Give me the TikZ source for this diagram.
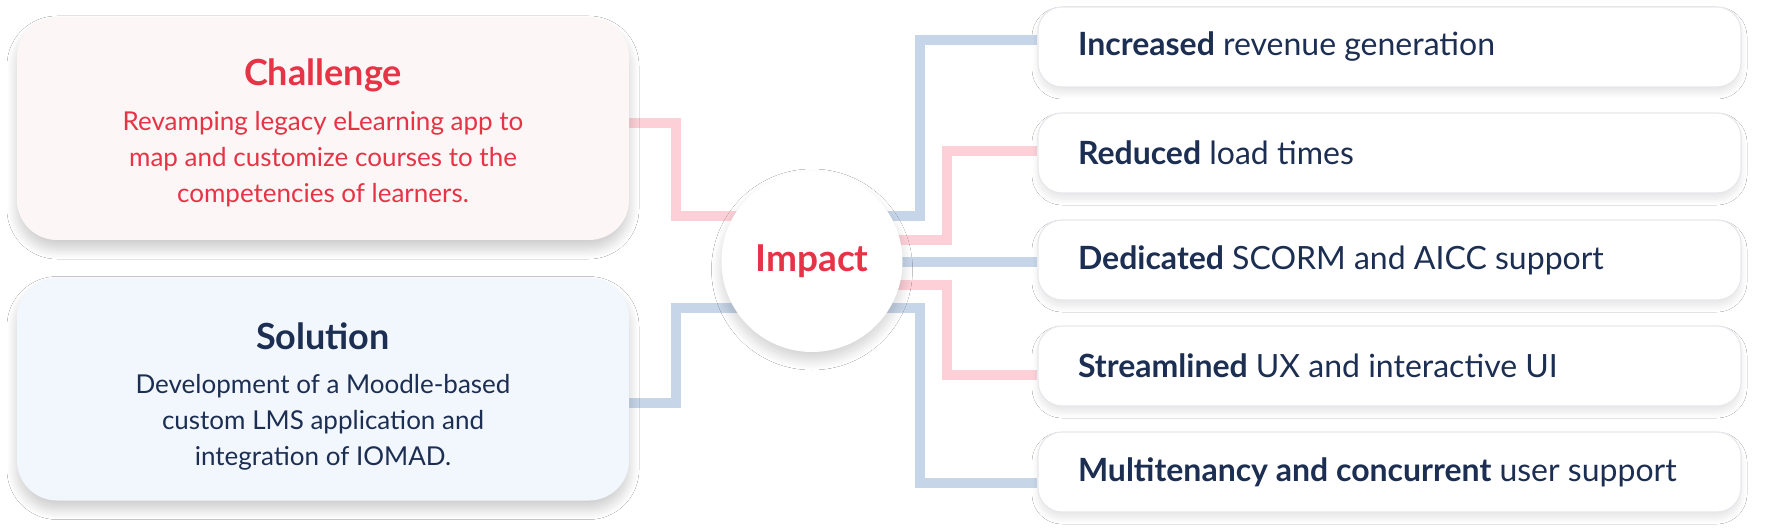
\documentclass[tikz,border=0pt]{standalone}
\usepackage{fontspec}
\setmainfont{Lato}
\usetikzlibrary{shadows.blur}
\definecolor{cred}{HTML}{E63346}
\definecolor{navy}{HTML}{1C2E52}
\definecolor{lpink}{HTML}{FDD0D8}
\definecolor{lblue}{HTML}{C6D5E8}
\definecolor{chfill}{HTML}{FDF6F6}
\definecolor{sofill}{HTML}{F2F7FE}
\definecolor{bord}{HTML}{E6E8EC}
\pgfdeclarelayer{bg}
\pgfsetlayers{bg,main}
\begin{document}
\begin{tikzpicture}[x=1pt,y=-1pt,
  conn/.style={line width=10pt, line join=miter},
  pinkline/.style={conn, draw=lpink},
  blueline/.style={conn, draw=lblue},
  bigbox/.style={rounded corners=40pt, minimum width=612pt, minimum height=223pt, inner sep=0pt,
    blur shadow={shadow xshift=0pt, shadow yshift=-9pt, shadow blur radius=10pt, shadow blur steps=20, shadow opacity=20}},
  titletext/.style={font=\fontsize{36}{42}\selectfont\bfseries, inner sep=0pt},
  bodytext/.style={font=\fontsize{26}{36}\selectfont, align=center, inner sep=0pt},
  impbox/.style={rectangle, rounded corners=24pt, draw=bord, line width=1.2pt, fill=white,
    minimum width=703pt, minimum height=80pt, inner xsep=40pt,
    text=navy, font=\fontsize{32}{38}\selectfont,
    blur shadow={shadow xshift=0pt, shadow yshift=-6pt, shadow blur radius=6pt, shadow blur steps=16, shadow opacity=10}},
  hub/.style={circle, fill=white, minimum size=181pt, inner sep=0pt, text=cred,
    font=\fontsize{37}{44}\selectfont\bfseries,
    blur shadow={shadow xshift=0pt, shadow yshift=-8pt, shadow blur radius=10pt, shadow blur steps=20, shadow opacity=18}}
]
\useasboundingbox (0,0) rectangle (1771,529);

\node[bigbox, fill=chfill] (ch) at (323,128.5) {};
\node[bigbox, fill=sofill] (so) at (323,389) {};
\node[titletext, text=cred] (chT) at (323,75) {Challenge};
\node[bodytext, text=cred] (chB) at (323,159) {Revamping legacy eLearning app to\\map and customize courses to the\\competencies of learners.};
\node[titletext, text=navy] (soT) at (323,336) {Solution};
\node[bodytext, text=navy] (soB) at (323,422) {Development of a Moodle-based\\custom LMS application and\\integration of IOMAD.};

\node[hub] (imp) at (812,261.5) {Impact};

\node[impbox] (r1) at (1389.5,47) {\makebox[623pt][l]{\textbf{Increased} revenue generation}};
\node[impbox] (r2) at (1389.5,153) {\makebox[623pt][l]{\textbf{Reduced} load times}};
\node[impbox] (r3) at (1389.5,260) {\makebox[623pt][l]{\textbf{Dedicated} SCORM and AICC support}};
\node[impbox] (r4) at (1389.5,366) {\makebox[623pt][l]{\textbf{Streamlined} UX and interactive UI}};
\node[impbox] (r5) at (1389.5,472) {\makebox[623pt][l]{\textbf{Multitenancy and concurrent} user support}};

\begin{pgfonlayer}{bg}
\fill[white] (0,0) rectangle (1771,529);
\draw[pinkline] (ch.east |- 0,123) -| (676,216) -- (imp.center |- 0,216);
\draw[blueline] (so.east |- 0,403) -| (676,308) -- (imp.center |- 0,308);
\draw[blueline] (imp.center |- 0,216.5) -| (920,40) -- (r1.west |- 0,40);
\draw[pinkline] (imp.center |- 0,240) -| (947,151) -- (r2.west |- 0,151);
\draw[blueline] (imp.center |- 0,262) -- (r3.west |- 0,262);
\draw[pinkline] (imp.center |- 0,285) -| (947,375) -- (r4.west |- 0,375);
\draw[blueline] (imp.center |- 0,308) -| (920,483) -- (r5.west |- 0,483);
\end{pgfonlayer}
\end{tikzpicture}
\end{document}
